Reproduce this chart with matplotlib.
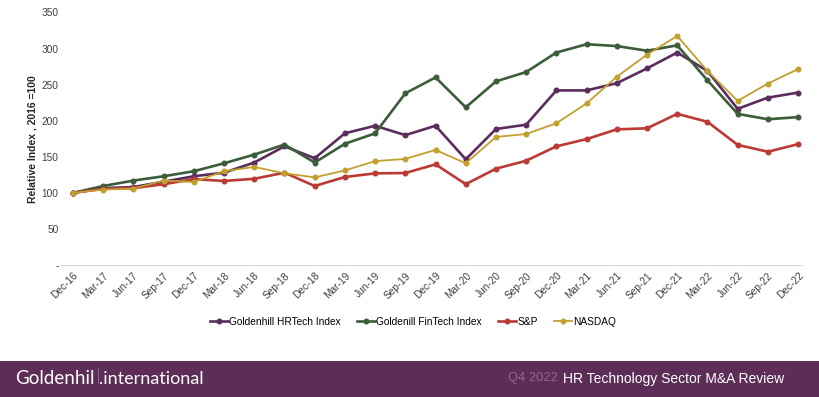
import numpy as np
import matplotlib
matplotlib.use("Agg")
import matplotlib.pyplot as plt
from matplotlib.patches import Rectangle

quarters = ["Dec-16", "Mar-17", "Jun-17", "Sep-17", "Dec-17", "Mar-18", "Jun-18", "Sep-18",
            "Dec-18", "Mar-19", "Jun-19", "Sep-19", "Dec-19", "Mar-20", "Jun-20", "Sep-20",
            "Dec-20", "Mar-21", "Jun-21", "Sep-21", "Dec-21", "Mar-22", "Jun-22", "Sep-22", "Dec-22"]

hrtech = [100, 106.5, 108, 115.5, 123, 128, 142, 164.5, 148, 182.5, 193, 180, 193, 146.5,
          188.5, 194.5, 242, 242, 252, 272.5, 294.5, 269, 216.5, 232, 239]
fintech = [100, 109.5, 117, 123, 130, 141, 153, 167, 142, 168, 182.5, 238, 260, 218.5,
           254.5, 267.5, 294.5, 306, 303.5, 297, 304.5, 256, 209.5, 202, 205]
sp = [100, 105.5, 106.5, 112, 119, 116.5, 119.5, 128, 109.5, 122, 127, 127.5, 139.5, 112,
      133.5, 144.5, 164.5, 174.5, 188, 189.5, 209.5, 198.5, 166.5, 157, 167.5]
nasdaq = [100, 104.5, 106, 117, 115, 130, 136, 127, 121.5, 131, 144, 147, 159.5, 141,
          177.5, 181.5, 196.5, 224, 261, 291.5, 317.5, 269, 227.5, 251.5, 271.5]

series_names = ["Goldenhill HRTech Index", "Goldenill FinTech Index", "S&P", "NASDAQ"]
series_colors = ["#5b2d5d", "#3b5d3a", "#bb3a34", "#c2a02e"]
series_widths = [1.9, 1.9, 1.9, 1.3]

plt.rcParams['font.family'] = ['Liberation Sans', 'DejaVu Sans']

fig = plt.figure(figsize=(8.2, 3.97), dpi=100)
ax = fig.add_axes([60 / 820, 1 - 265 / 397, 742 / 820, 252.5 / 397])

x = np.arange(len(quarters))
for vals, name, col, lw in zip([hrtech, fintech, sp, nasdaq], series_names, series_colors, series_widths):
    ax.plot(x, vals, color=col, lw=lw, marker="o", ms=3.3, label=name)

ax.set_xlim(-0.43, 24.13)
ax.set_ylim(0, 350)
ax.set_yticks(np.arange(0, 351, 50))
ax.set_yticklabels(["-"] + [str(v) for v in range(50, 351, 50)])
ax.set_xticks(x)
ax.set_xticklabels(quarters, rotation=45, ha="right", rotation_mode="anchor")

for s in ["top", "right", "left"]:
    ax.spines[s].set_visible(False)
ax.spines["bottom"].set_color("#d9d9d9")
ax.tick_params(axis="both", length=0, labelsize=7.3, colors="#404040")
ax.tick_params(axis="y", pad=1)
ax.tick_params(axis="x", pad=4)

ax.set_ylabel("Relative Index , 2016 =100", fontsize=7.5, fontweight="bold", color="#262626", labelpad=3)

fig.legend(loc="center", bbox_to_anchor=(413 / 820, 1 - 322 / 397), ncol=4, frameon=False,
           fontsize=7.3, handlelength=1.8, columnspacing=1.6, handletextpad=0.1)

# footer band
fig.patches.append(Rectangle((0, 0), 1, 36.5 / 397, transform=fig.transFigure,
                             facecolor="#5d2d57", edgecolor="none", zorder=0))
fig.text(15 / 820, 18 / 397, "Goldenhil", color="white", fontsize=13.5, family="Lato",
         va="center", ha="left")
fig.text(96 / 820, 19.5 / 397, "l", color="white", fontsize=16, family="Lato", va="center",
         ha="left", fontweight="light")
fig.text(99 / 820, 18 / 397, ".international", color="white", fontsize=13, family="Lato",
         va="center", ha="left")
fig.text(558 / 820, 18.5 / 397, "Q4 2022", color="#8d6a88", fontsize=9.3, va="center", ha="right")
fig.text(563 / 820, 18.5 / 397, "HR Technology Sector M&A Review", color="white", fontsize=10,
         va="center", ha="left")

fig.savefig("out.png", dpi=100)
